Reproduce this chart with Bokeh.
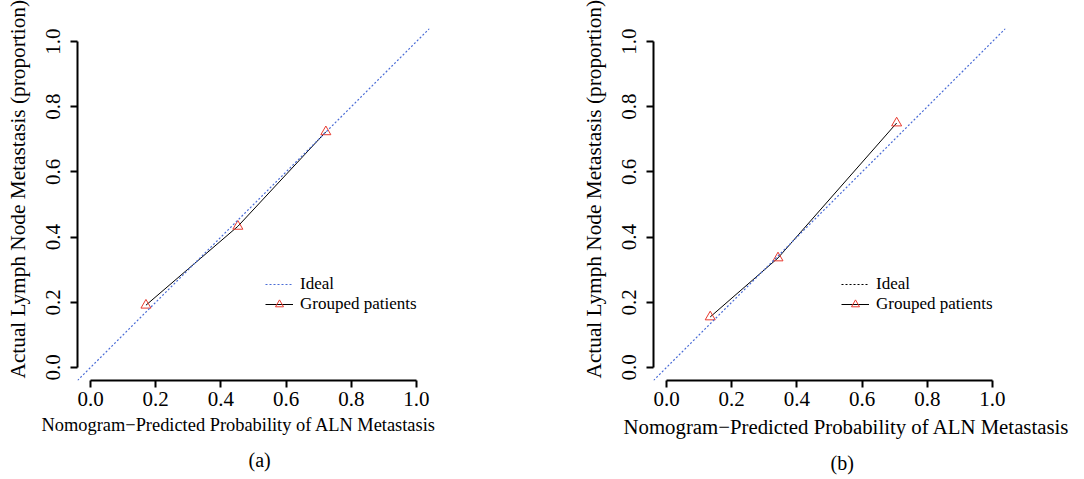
from bokeh.plotting import figure
from bokeh.models import Title, Slope, FixedTicker, PrintfTickFormatter
from bokeh.layouts import row
from bokeh.embed import file_html
from bokeh.resources import INLINE

# ---- data ----
pred_a = [0.170, 0.452, 0.722]
obs_a = [0.191, 0.433, 0.723]
pred_b = [0.134, 0.342, 0.706]
obs_b = [0.155, 0.336, 0.750]
tick_values = [0.0, 0.2, 0.4, 0.6, 0.8, 1.0]
x_label = "Nomogram\u2212Predicted Probability of ALN Metastasis"
y_label = "Actual Lymph Node Metastasis (proportion)"
legend_ideal = "Ideal"
legend_group = "Grouped patients"
sub_a = "(a)"
sub_b = "(b)"

FONT = "Liberation Serif"
IDEAL_BLUE = "#4a6cd6"
RED = "#e8392e"
NAN = float("nan")


def make_panel(pred, obs, ideal_legend_color, xlab_size, xlab_offset, sub, sub_offset,
               border_left, border_right):
    p = figure(frame_width=352, frame_height=352, x_range=(-0.04, 1.04), y_range=(-0.04, 1.04),
               output_backend="svg", toolbar_location=None,
               min_border_left=border_left, min_border_right=border_right,
               min_border_top=28, min_border_bottom=95)
    p.outline_line_color = None
    p.grid.visible = False
    p.background_fill_color = "white"
    p.border_fill_color = "white"

    for ax in (p.xaxis[0], p.yaxis[0]):
        ax.ticker = FixedTicker(ticks=tick_values)
        ax.formatter = PrintfTickFormatter(format="%.1f")
        ax.bounds = (0, 1)
        ax.minor_tick_line_color = None
        ax.major_tick_in = 0
        ax.major_tick_out = 7
        ax.axis_line_width = 2
        ax.major_tick_line_width = 2
        ax.axis_line_color = "black"
        ax.major_tick_line_color = "black"
        ax.major_label_text_font = FONT
        ax.major_label_text_font_size = "21px"
        ax.major_label_text_color = "black"
    p.xaxis[0].major_label_standoff = 4
    p.yaxis[0].major_label_standoff = 10
    p.yaxis[0].major_label_orientation = "vertical"
    # spacer between tick labels and the y title
    p.yaxis[0].axis_label = " "
    p.yaxis[0].axis_label_text_font_size = "2px"
    p.yaxis[0].axis_label_standoff = 8

    # ideal line
    p.add_layout(Slope(gradient=1, y_intercept=0, line_color=IDEAL_BLUE,
                       line_dash="2 2", line_width=1.2))
    # legend proxy for ideal (no visible data)
    p.line([NAN], [NAN], line_color=ideal_legend_color, line_dash="2 2", line_width=1.2,
           legend_label=legend_ideal)
    # grouped patients
    p.line(pred, obs, line_color="black", line_width=1, legend_label=legend_group)
    p.scatter(pred, obs, marker="triangle", size=10, fill_color=None,
              line_color=RED, line_width=1, legend_label=legend_group)

    lg = p.legend[0]
    lg.location = (188, 66)
    lg.border_line_color = None
    lg.background_fill_alpha = 0
    lg.padding = 0
    lg.margin = 0
    lg.spacing = 0
    lg.glyph_width = 28
    lg.glyph_height = 20
    lg.label_height = 20
    lg.label_standoff = 7
    lg.label_text_font = FONT
    lg.label_text_font_size = "17px"
    lg.label_text_color = "black"

    p.add_layout(Title(text=y_label, align="left", offset=2, standoff=2,
                       text_font=FONT, text_font_size="21.3px", text_font_style="normal",
                       text_color="black"), "left")
    p.add_layout(Title(text=x_label, align="left", offset=xlab_offset, standoff=8,
                       text_font=FONT, text_font_size=xlab_size, text_font_style="normal",
                       text_color="black"), "below")
    p.add_layout(Title(text=sub, align="left", offset=sub_offset, standoff=16,
                       text_font=FONT, text_font_size="20px", text_font_style="normal",
                       text_color="black"), "below")
    return p


pa = make_panel(pred_a, obs_a, IDEAL_BLUE, "18.4px", -36, sub_a, 171, 77, 111)
pb = make_panel(pred_b, obs_b, "black", "20.8px", -30, sub_b, 177, 113, 75)

layout = row(pa, pb)
open("out.html", "w").write(file_html(layout, INLINE))
